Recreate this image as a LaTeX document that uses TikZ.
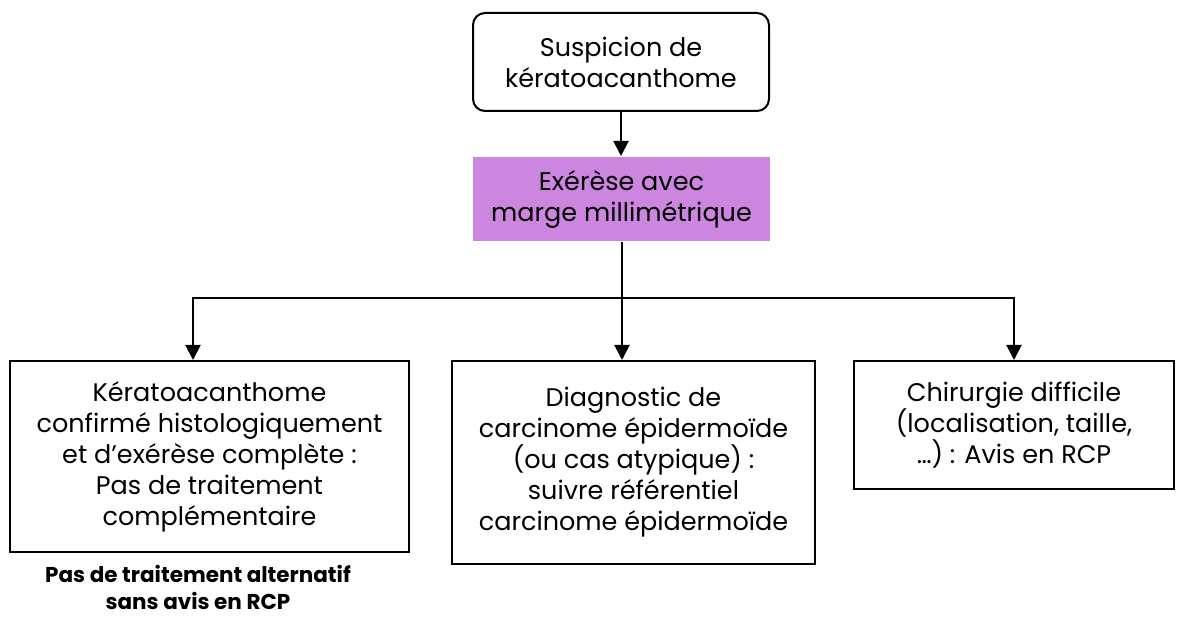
\documentclass[tikz,border=0pt]{standalone}
\usepackage{fontspec}
\setmainfont{Poppins}
\usetikzlibrary{arrows.meta}
\definecolor{lilac}{RGB}{204,134,224}
\begin{document}
\begin{tikzpicture}[x=1pt,y=-1pt,
  box/.style={draw=black,line width=2pt,align=center,inner sep=0pt,
    font=\fontsize{25.5}{31}\selectfont},
  link/.style={line width=2pt,-{Triangle[width=15pt,length=15pt]}},
  plain/.style={line width=2pt}]
\useasboundingbox (0,0) rectangle (1179,617);
\node[box,rounded corners=12pt,minimum width=296pt,minimum height=98pt] (top) at (621,62)
  {Suspicion de\\kératoacanthome};
\node[box,draw=none,fill=lilac,minimum width=297pt,minimum height=84pt] (exe) at (621.5,199)
  {Exérèse avec\\marge millimétrique};
\node[box,minimum width=399pt,minimum height=191pt] (left) at (209.5,456.5)
  {Kératoacanthome\\confirmé histologiquement\\et d’exérèse complète :\\Pas de traitement\\complémentaire};
\node[box,minimum width=363pt,minimum height=203pt] (mid) at (633.5,462.5)
  {Diagnostic de\\carcinome épidermoïde\\(ou cas atypique) :\\suivre référentiel\\carcinome épidermoïde};
\node[box,minimum width=320pt,minimum height=128pt] (right) at (1014,425)
  {Chirurgie difficile\\(localisation, taille,\\…) : Avis en RCP};
\node[align=center,inner sep=0pt,font=\fontsize{21.5}{27}\selectfont\bfseries] (note) at (198,587)
  {Pas de traitement alternatif\\sans avis en RCP};
\coordinate (j) at (622,298);
\coordinate (jl) at (193,298);
\draw[link] (top) -- (top.south |- exe.north);
\draw[plain] (exe.south -| j) -- (j);
\draw[link] (j) -- (jl) -- (jl |- left.north);
\draw[link] (j) -- (j |- mid.north);
\draw[link] (j) -| (right.north);
\end{tikzpicture}
\end{document}
